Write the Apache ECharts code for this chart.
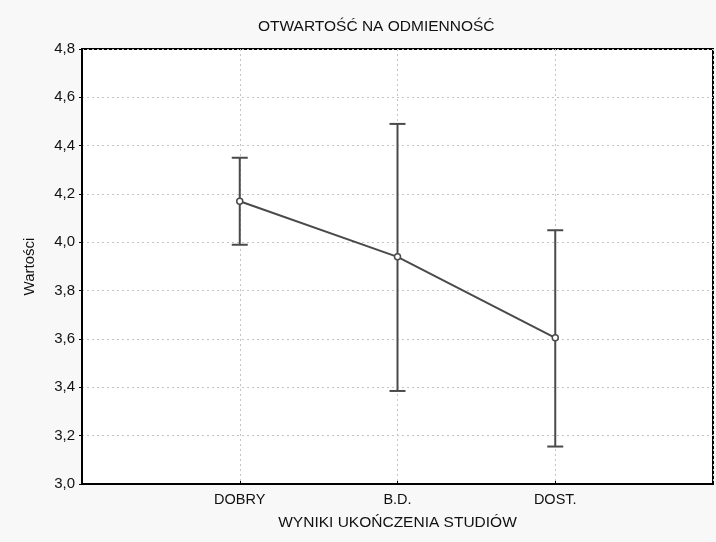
<!DOCTYPE html>
<html>
<head>
<meta charset="utf-8">
<script src="https://cdn.jsdelivr.net/npm/echarts@6/dist/echarts.min.js"></script>
<style>
  html, body { margin: 0; padding: 0; background: #f8f8f8; }
  #chart { width: 716px; height: 542px; }
</style>
</head>
<body>
<div id="chart"></div>
<script>
// dane
var categories = ['', 'DOBRY', 'B.D.', 'DOST.', ''];
var means = [null, 4.17, 3.94, 3.605, null];
var lower = [null, 3.99, 3.385, 3.155, null];
var upper = [null, 4.35, 4.49, 4.05, null];
var yTicks = [3.0, 3.2, 3.4, 3.6, 3.8, 4.0, 4.2, 4.4, 4.6, 4.8];

var font = 'Liberation Sans';
var lineColor = '#4a4a4a';

var errData = [];
for (var i = 0; i < categories.length; i++) {
  if (means[i] != null) errData.push([i, lower[i], upper[i]]);
}

var chart = echarts.init(document.getElementById('chart'));

var option = {
  backgroundColor: '#f8f8f8',
  animation: false,
  textStyle: { fontFamily: font },
  title: {
    text: 'OTWARTOŚĆ NA ODMIENNOŚĆ',
    left: 253,
    top: 14,
    textStyle: { fontFamily: font, fontSize: 15.5, fontWeight: 'normal', color: '#111' }
  },
  grid: {
    left: 82,
    right: 1,
    top: 49,
    bottom: 58,
    show: true,
    backgroundColor: '#fff',
    borderColor: '#000',
    borderWidth: 2
  },
  xAxis: {
    type: 'category',
    data: categories,
    boundaryGap: false,
    name: 'WYNIKI UKOŃCZENIA STUDIÓW',
    nameLocation: 'middle',
    nameGap: 31,
    nameTextStyle: { fontFamily: font, fontSize: 15.5, color: '#111' },
    axisLine: { lineStyle: { color: '#000', width: 2 } },
    axisTick: { show: true, inside: true, length: 3, lineStyle: { color: '#000' } },
    axisLabel: { fontFamily: font, fontSize: 14.5, color: '#111', margin: 8 },
    splitLine: { show: true, lineStyle: { color: '#c4c4c4', type: [2, 3], width: 1 } }
  },
  yAxis: {
    type: 'value',
    min: yTicks[0],
    max: yTicks[yTicks.length - 1],
    interval: 0.2,
    name: 'Wartości',
    nameLocation: 'middle',
    nameGap: 45,
    nameTextStyle: { fontFamily: font, fontSize: 15, color: '#111' },
    axisLine: { show: true, lineStyle: { color: '#000', width: 2 } },
    axisTick: { show: true, length: 3, lineStyle: { color: '#000' } },
    axisLabel: {
      fontFamily: font, fontSize: 15, color: '#111', margin: 7,
      formatter: function (v) { return v.toFixed(1).replace('.', ','); }
    },
    splitLine: { show: true, lineStyle: { color: '#c4c4c4', type: [2, 3], width: 1 } }
  },
  series: [
    {
      type: 'custom',
      data: errData,
      z: 3,
      renderItem: function (params, api) {
        var x = api.value(0);
        var lo = api.coord([x, api.value(1)]);
        var hi = api.coord([x, api.value(2)]);
        var hw = 8;
        var style = { stroke: lineColor, lineWidth: 2, fill: null };
        return {
          type: 'group',
          children: [
            { type: 'line', shape: { x1: lo[0], y1: lo[1], x2: hi[0], y2: hi[1] }, style: style },
            { type: 'line', shape: { x1: lo[0] - hw, y1: lo[1], x2: lo[0] + hw, y2: lo[1] }, style: style },
            { type: 'line', shape: { x1: hi[0] - hw, y1: hi[1], x2: hi[0] + hw, y2: hi[1] }, style: style }
          ]
        };
      }
    },
    {
      type: 'line',
      data: means,
      z: 4,
      connectNulls: false,
      symbol: 'circle',
      symbolSize: 6,
      lineStyle: { color: lineColor, width: 2 },
      itemStyle: { color: '#fff', borderColor: lineColor, borderWidth: 1.5 }
    }
  ]
};

chart.setOption(option);
</script>
</body>
</html>
